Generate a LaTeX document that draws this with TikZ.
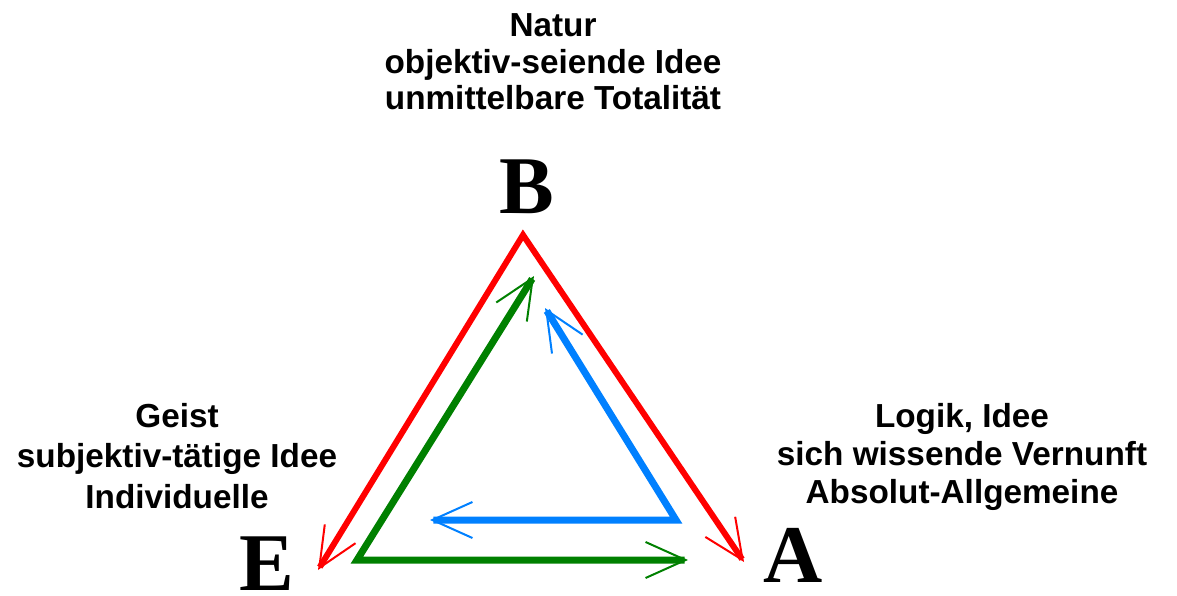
\documentclass[tikz,border=0pt]{standalone}
\usepackage{fontspec}
\setmainfont{Liberation Sans}
\newfontfamily\letterfont{Liberation Serif}
\usetikzlibrary{arrows.meta}
\definecolor{hegelred}{RGB}{255,0,0}
\definecolor{hegelgreen}{RGB}{0,128,0}
\definecolor{hegelblue}{RGB}{0,128,255}

\begin{document}
\begin{tikzpicture}[x=1pt,y=-1pt,
    >={Straight Barb[length=40pt,width=36pt,line width=2pt]},
    every node/.style={inner sep=0pt},
    idee/.style={font=\bfseries\fontsize{33.3}{#1}\selectfont, anchor=base, align=center},
    corner/.style={font=\letterfont\bfseries\fontsize{82}{82}\selectfont, anchor=base}]
    \useasboundingbox (0,0) rectangle (1177,596);

    % the three moments
    \node[corner] (B) at (527,213) {B};
    \node[corner] (E) at (267,590) {E};
    \node[corner] (A) at (793,582) {A};

    % base anchor sits on the last line
    \node[idee=36.5] (natur) at (553,110)
      {Natur\\objektiv-seiende Idee\\unmittelbare Totalität};
    \node[idee=40.5] (geist) at (177,508)
      {Geist\\subjektiv-tätige Idee\\Individuelle};
    \node[idee=38] (logik) at (962,503)
      {Logik, Idee\\sich wissende Vernunft\\Absolut-Allgemeine};

    % syllogism paths
    \coordinate (rB) at (523,235);
    \coordinate (rE) at (318,570);
    \coordinate (rA) at (744,562);
    \coordinate (gC) at (357,560);
    \coordinate (gB) at (534,276);
    \coordinate (gA) at (688,560);
    \coordinate (bC) at (676,520);
    \coordinate (bE) at (430,520);
    \coordinate (bB) at (545,308);

    \draw[hegelred, line width=6pt, <->] (rE) -- (rB) -- (rA);
    \draw[hegelgreen, line width=7pt, <->] (gB) -- (gC) -- (gA);
    \draw[hegelblue, line width=7pt, <->] (bB) -- (bC) -- (bE);
\end{tikzpicture}
\end{document}
